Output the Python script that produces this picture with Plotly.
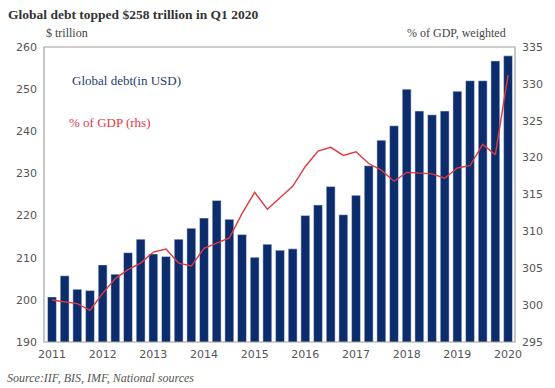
import plotly.graph_objects as go

years = list(range(2011, 2021))
quarters = [f"Q{q} {y}" for y in range(2011, 2021) for q in range(1, 5)][:37]

debt_usd = [200.7, 205.7, 202.5, 202.2, 208.3, 206.1, 211.2, 214.4, 210.9, 210.3,
            214.4, 217.0, 219.4, 223.6, 219.1, 215.5, 210.1, 213.2, 211.8, 212.1,
            220.0, 222.5, 226.9, 220.2, 224.8, 231.8, 237.9, 241.3, 250.0, 244.8,
            243.9, 244.8, 249.5, 252.0, 252.0, 256.7, 257.9]

debt_pct_gdp = [300.7, 300.4, 300.2, 299.3, 301.6, 303.6, 304.8, 305.7, 307.2, 307.6,
                305.7, 305.3, 307.7, 308.4, 309.1, 312.4, 315.3, 313.0, 314.5, 316.1,
                318.8, 320.9, 321.4, 320.3, 320.8, 319.2, 318.3, 316.8, 318.0, 317.9,
                317.8, 317.2, 318.6, 318.9, 321.8, 320.4, 331.2]

tick_quarters = [f"Q1 {y}" for y in years]
tick_labels = [str(y) for y in years]

navy = "#0c2c6c"
red = "#e2383f"
grey = "#555555"

fig = go.Figure()
fig.add_trace(go.Bar(x=quarters, y=debt_usd, marker_color=navy, width=0.7,
                     name="Global debt(in USD)", yaxis="y"))
fig.add_trace(go.Scatter(x=quarters, y=debt_pct_gdp, mode="lines",
                         line=dict(color=red, width=1.4), name="% of GDP (rhs)", yaxis="y2"))

tickfont = dict(family="DejaVu Sans", size=11, color=grey)
fig.update_layout(
    width=555, height=388,
    margin=dict(l=44, r=36, t=47, b=46),
    paper_bgcolor="white", plot_bgcolor="white",
    showlegend=False,
    bargap=0.3,
    xaxis=dict(type="category", range=[-0.63, 36.55], tickmode="array",
               tickvals=tick_quarters, ticktext=tick_labels, showgrid=False,
               ticks="", tickfont=tickfont, zeroline=False, ticklabelstandoff=4),
    yaxis=dict(range=[190, 260], dtick=10, showgrid=False, zeroline=False,
               ticks="", tickfont=tickfont, ticklabelstandoff=6),
    yaxis2=dict(range=[295, 335], dtick=5, overlaying="y", side="right",
                showgrid=False, zeroline=False, ticks="", tickfont=tickfont,
                ticklabelstandoff=6),
    shapes=[dict(type="rect", xref="paper", yref="paper", x0=0, y0=0, x1=1, y1=1,
                 line=dict(color="#a0a0a0", width=1.2), layer="above")],
    annotations=[
        dict(text="<b>Global debt topped $258 trillion in Q1 2020</b>", xref="paper", yref="paper",
             x=-38/475, y=1 + 32/295, xanchor="left", yanchor="middle", showarrow=False,
             font=dict(family="Liberation Serif", size=13.5, color="#333333")),
        dict(text="$ trillion", xref="paper", yref="paper", x=0, y=1 + 14/295,
             xanchor="left", yanchor="middle", showarrow=False,
             font=dict(family="Liberation Serif", size=12, color="#444444")),
        dict(text="% of GDP, weighted", xref="paper", yref="paper", x=1 - 7/475, y=1 + 14/295,
             xanchor="right", yanchor="middle", showarrow=False,
             font=dict(family="Liberation Serif", size=12, color="#444444")),
        dict(text="Global debt(in USD)", xref="paper", yref="paper", x=26/475, y=1 - 33/295,
             xanchor="left", yanchor="middle", showarrow=False,
             font=dict(family="Liberation Serif", size=13, color="#1f3a70")),
        dict(text="% of GDP (rhs)", xref="paper", yref="paper", x=23/475, y=1 - 75/295,
             xanchor="left", yanchor="middle", showarrow=False,
             font=dict(family="Liberation Serif", size=13, color=red)),
        dict(text="<i>Source:IIF, BIS, IMF, National sources</i>", xref="paper", yref="paper",
             x=-39/475, y=-36/295, xanchor="left", yanchor="middle", showarrow=False,
             font=dict(family="Liberation Serif", size=12, color="#555555")),
    ],
)

fig.write_html("out.html", config={"displayModeBar": False},
               post_script="document.body.style.margin='0px';")
